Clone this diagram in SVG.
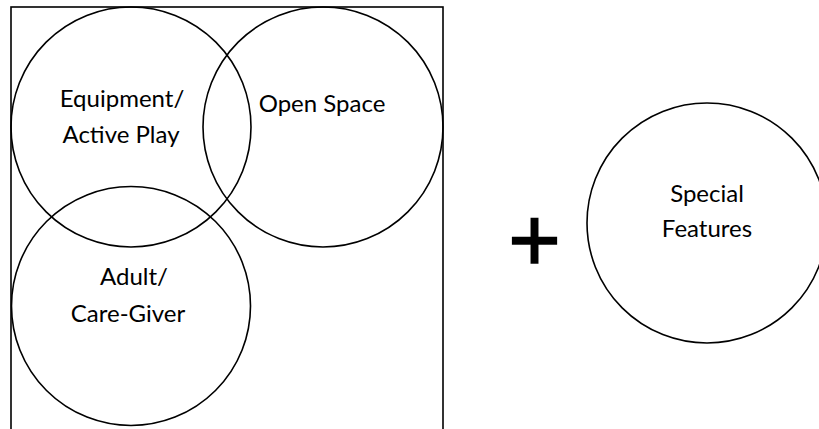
<svg xmlns="http://www.w3.org/2000/svg" width="819" height="429" viewBox="0 0 819 429">
<style>
.c{fill:none;stroke:#000;stroke-width:1.6}
.t{font-family:Lato,"Open Sans","Liberation Sans",sans-serif;font-size:24px;fill:#000;text-anchor:middle}
</style>
<rect width="819" height="429" fill="#fff"/>
<g id="frame"><rect x="11" y="7" width="432" height="440" class="c"/></g>
<g id="equipment"><circle cx="131" cy="127" r="120" class="c"/>
<text class="t" x="122" y="107">Equipment/</text>
<text class="t" x="121" y="143">Active Play</text></g>
<g id="openspace"><circle cx="323" cy="127" r="120" class="c"/>
<text class="t" x="322" y="112">Open Space</text></g>
<g id="adult"><circle cx="131" cy="306" r="119.5" class="c"/>
<text class="t" x="134" y="285">Adult/</text>
<text class="t" x="128" y="322">Care-Giver</text></g>
<g id="plus"><text x="534.5" y="271" style="font-family:'Liberation Sans',Arial,sans-serif;font-size:90px;font-weight:normal;text-anchor:middle;stroke:#000;stroke-width:1.5">+</text></g>
<g id="special"><circle cx="707" cy="223" r="120" class="c"/>
<text class="t" x="707" y="202">Special</text>
<text class="t" x="707" y="237">Features</text></g>
<g id="connectors"/>
</svg>
